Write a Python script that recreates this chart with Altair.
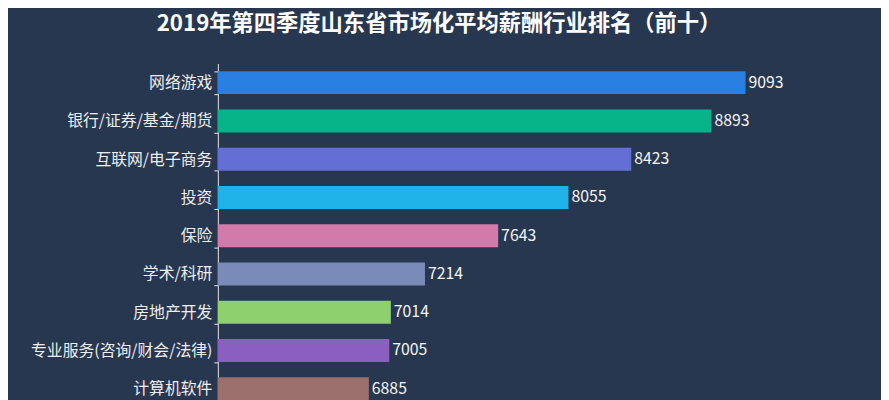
import altair as alt
import pandas as pd

categories = ["网络游戏", "银行/证券/基金/期货", "互联网/电子商务", "投资", "保险",
              "学术/科研", "房地产开发", "专业服务(咨询/财会/法律)", "计算机软件"]
values = [9093, 8893, 8423, 8055, 7643, 7214, 7014, 7005, 6885]
colors = ["#2a7fe3", "#07b489", "#636fd4", "#1fb3ea", "#d27aaa",
          "#7b8bb9", "#8fd06e", "#8b5ec1", "#9c716d"]

df = pd.DataFrame({"cat": categories, "val": values, "color": colors})

FONT = "Noto Sans CJK SC"

y = alt.Y("cat:N", sort=categories, title=None,
          scale=alt.Scale(paddingInner=0.4, paddingOuter=0.2),
          axis=alt.Axis(domainColor="#e6e6e6", tickColor="#e6e6e6", tickSize=4,
                        tickBand="extent", labelColor="#eeeeee", labelFont=FONT,
                        labelFontSize=16, labelPadding=2, labelLimit=300))
x = alt.X("val:Q", title=None, scale=alt.Scale(domain=[6000, 9800], zero=False, nice=False, clamp=True),
          axis=None)

bars = alt.Chart(df).mark_bar().encode(
    x=x, y=y, color=alt.Color("color:N", scale=None)
)
labels = alt.Chart(df).mark_text(align="left", baseline="middle", dx=3, font=FONT,
                                 fontSize=16, color="#f5f5f5").encode(
    x=x, y=y, text=alt.Text("val:Q", format="d")
)

chart = (bars + labels).properties(
    width=655, height=348,
    autosize=alt.AutoSizeParams(type="none"),
    padding={"left": 212, "top": 54, "right": 15, "bottom": 0},
    background="#283750",
    title=alt.Title("2019年第四季度山东省市场化平均薪酬行业排名（前十）", font=FONT,
                    fontSize=22.5, fontWeight="bold", color="#ffffff",
                    anchor="middle", frame="group", dx=-104, offset=20),
).configure_view(stroke=None)

chart.save("out.html", embed_options={"renderer": "svg", "actions": False})
